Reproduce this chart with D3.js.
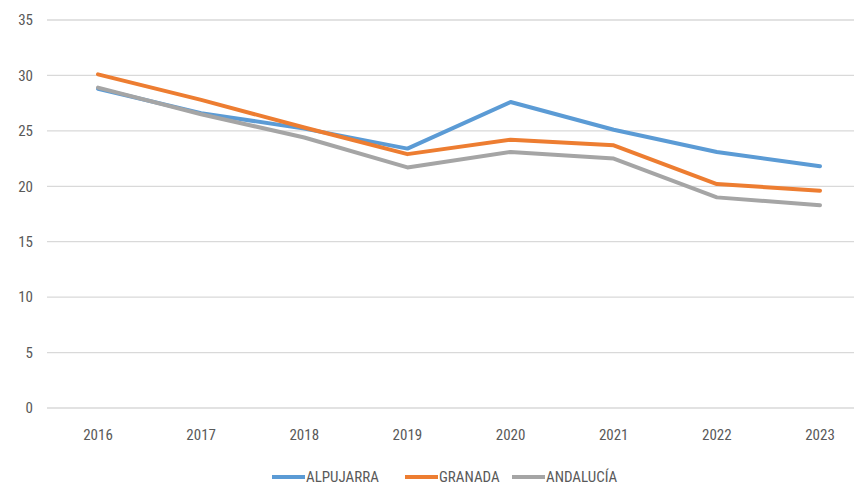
<!DOCTYPE html>
<html><head><meta charset="utf-8">
<script src="https://cdn.jsdelivr.net/npm/d3@7"></script>
<style>body{margin:0;background:#fff}svg{display:block}text{font-family:"Liberation Sans Narrow","Roboto Condensed","Open Sans",sans-serif;fill:#595959}</style>
</head><body><svg id="c" width="854" height="486"></svg>
<script>
const years = ["2016","2017","2018","2019","2020","2021","2022","2023"];
const alpujarra = [28.8, 26.6, 25.2, 23.4, 27.6, 25.1, 23.1, 21.8];
const granada = [30.1, 27.8, 25.3, 22.9, 24.2, 23.7, 20.2, 19.6];
const andalucia = [28.9, 26.5, 24.4, 21.7, 23.1, 22.5, 19.0, 18.3];
const seriesNames = ["ALPUJARRA", "GRANADA", "ANDALUCÍA"];
const yTicks = [0, 5, 10, 15, 20, 25, 30, 35];

const colors = ["#5B9BD5", "#ED7D31", "#A5A5A5"];
const series = [alpujarra, granada, andalucia];
const svg = d3.select("#c");
const x = d3.scalePoint().domain(years).range([98, 820]);
const y = d3.scaleLinear().domain([0, 35]).range([408, 20]);

svg.append("g").selectAll("line").data(yTicks).join("line")
  .attr("x1", 47).attr("x2", 854).attr("y1", d => y(d)).attr("y2", d => y(d))
  .attr("stroke", "#d9d9d9").attr("stroke-width", 1.3);
svg.append("g").selectAll("text").data(yTicks).join("text")
  .attr("x", 33).attr("y", d => y(d)).attr("dy", "0.35em").attr("text-anchor", "end")
  .attr("font-size", 15).text(d => d);
svg.append("g").selectAll("text").data(years).join("text")
  .attr("x", d => x(d)).attr("y", 435).attr("dy", "0.35em").attr("text-anchor", "middle")
  .attr("font-size", 15).text(d => d);

const line = d3.line().x((d, i) => x(years[i])).y(d => y(d));
series.forEach((s, k) => {
  svg.append("path").datum(s).attr("d", line).attr("fill", "none")
    .attr("stroke", colors[k]).attr("stroke-width", 4).attr("stroke-linejoin", "round").attr("stroke-linecap", "round");
});

const legX = [272, 405, 512];
const lg = svg.append("g");
seriesNames.forEach((n, k) => {
  lg.append("line").attr("x1", legX[k]).attr("x2", legX[k] + 33).attr("y1", 477).attr("y2", 477)
    .attr("stroke", colors[k]).attr("stroke-width", 4);
  lg.append("text").attr("x", legX[k] + 34).attr("y", 477).attr("dy", "0.35em").attr("font-size", 15).text(n);
});
</script></body></html>
